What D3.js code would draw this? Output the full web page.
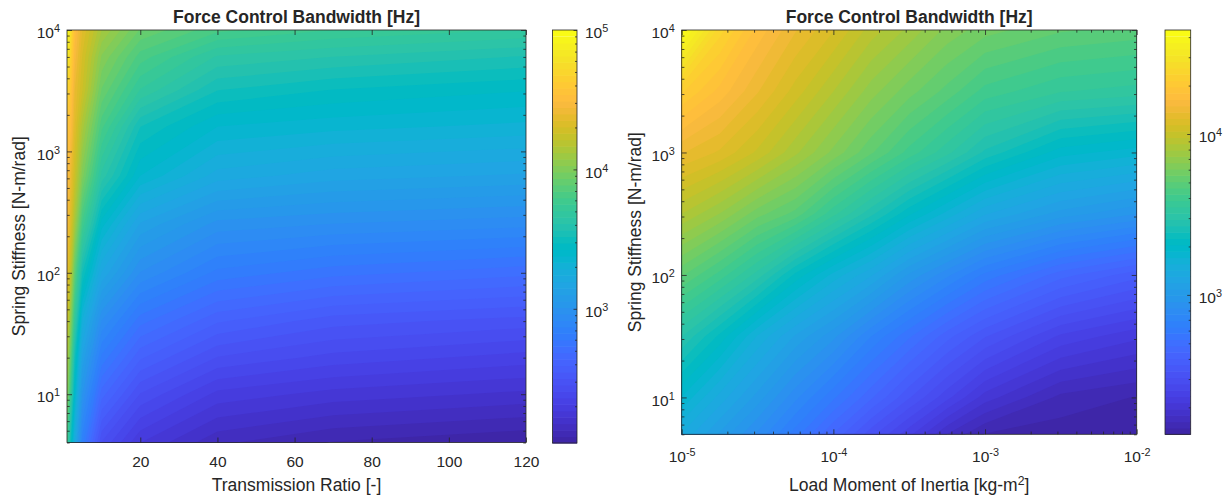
<!DOCTYPE html>
<html>
<head>
<meta charset="utf-8">
<script src="https://cdn.jsdelivr.net/npm/d3@7"></script>
<style>
  html, body { margin: 0; padding: 0; background: #fff; }
  svg { display: block; }
  text { font-family: "Liberation Sans", Arial, Helvetica, sans-serif; fill: #262626; }
</style>
</head>
<body>
<svg id="chart" width="1227" height="497"></svg>
<script>
// Parula colour map, 64 entries (r, g, b in 0..1)
const PARULA = [
  [0.2422,0.1504,0.6603],[0.2504,0.1650,0.7076],[0.2578,0.1818,0.7511],[0.2647,0.1978,0.7952],
  [0.2706,0.2147,0.8364],[0.2751,0.2342,0.8710],[0.2783,0.2559,0.8991],[0.2803,0.2782,0.9221],
  [0.2813,0.3006,0.9414],[0.2810,0.3228,0.9579],[0.2795,0.3447,0.9717],[0.2760,0.3667,0.9829],
  [0.2699,0.3892,0.9906],[0.2602,0.4123,0.9952],[0.2440,0.4358,0.9988],[0.2206,0.4603,0.9973],
  [0.1963,0.4847,0.9892],[0.1834,0.5074,0.9798],[0.1786,0.5289,0.9682],[0.1764,0.5499,0.9520],
  [0.1687,0.5703,0.9359],[0.1540,0.5902,0.9218],[0.1460,0.6091,0.9079],[0.1380,0.6276,0.8973],
  [0.1248,0.6459,0.8883],[0.1113,0.6635,0.8763],[0.0952,0.6798,0.8598],[0.0689,0.6948,0.8394],
  [0.0297,0.7082,0.8163],[0.0036,0.7203,0.7917],[0.0067,0.7312,0.7660],[0.0433,0.7411,0.7394],
  [0.0964,0.7500,0.7120],[0.1408,0.7584,0.6842],[0.1717,0.7670,0.6554],[0.1938,0.7758,0.6251],
  [0.2161,0.7843,0.5923],[0.2470,0.7918,0.5567],[0.2906,0.7973,0.5188],[0.3406,0.8008,0.4789],
  [0.3909,0.8029,0.4354],[0.4456,0.8024,0.3909],[0.5044,0.7993,0.3480],[0.5616,0.7942,0.3045],
  [0.6174,0.7876,0.2612],[0.6720,0.7793,0.2227],[0.7242,0.7698,0.1910],[0.7738,0.7598,0.1646],
  [0.8203,0.7498,0.1535],[0.8634,0.7406,0.1596],[0.9035,0.7330,0.1774],[0.9393,0.7288,0.2100],
  [0.9728,0.7298,0.2394],[0.9956,0.7434,0.2371],[0.9970,0.7659,0.2199],[0.9952,0.7893,0.2028],
  [0.9892,0.8136,0.1885],[0.9786,0.8386,0.1766],[0.9676,0.8639,0.1643],[0.9610,0.8890,0.1537],
  [0.9597,0.9135,0.1423],[0.9628,0.9373,0.1265],[0.9691,0.9606,0.1064],[0.9769,0.9839,0.0805]
];

// ---- Left panel: transmission ratio vs. spring stiffness ----
const ratioSamples = [1, 2, 3, 5, 10, 20, 40, 70, 120];
const stiffnessSamplesA = [4, 10, 20, 40, 100, 250, 630, 1600, 3200, 6000, 10000];
// log10 of force control bandwidth [Hz]; one row per stiffness sample, columns follow ratioSamples
const bandwidthLogA = [
  [3.78, 3.49, 3.24, 2.84, 2.45, 2.27, 2.14, 2.08, 2.04],
  [4.05, 3.73, 3.40, 3.01, 2.66, 2.45, 2.30, 2.25, 2.21],
  [4.17, 3.88, 3.52, 3.14, 2.81, 2.60, 2.45, 2.39, 2.34],
  [4.29, 4.02, 3.70, 3.28, 2.96, 2.75, 2.60, 2.52, 2.48],
  [4.40, 4.20, 3.90, 3.52, 3.19, 2.96, 2.81, 2.75, 2.70],
  [4.47, 4.32, 4.12, 3.78, 3.40, 3.14, 2.99, 2.96, 2.93],
  [4.52, 4.40, 4.26, 4.00, 3.64, 3.38, 3.22, 3.17, 3.14],
  [4.58, 4.50, 4.35, 4.14, 3.81, 3.52, 3.38, 3.35, 3.32],
  [4.71, 4.58, 4.40, 4.26, 3.93, 3.70, 3.52, 3.47, 3.43],
  [4.86, 4.67, 4.47, 4.30, 4.02, 3.82, 3.65, 3.61, 3.56],
  [5.00, 4.76, 4.52, 4.35, 4.12, 3.93, 3.81, 3.75, 3.70]
];
const ratioTicks = [20, 40, 60, 80, 100, 120];
const colorRangeA = [109, 100000];

// ---- Right panel: load moment of inertia vs. spring stiffness ----
const inertiaSamples = [1e-5, 1.78e-5, 3.16e-5, 5.62e-5, 1e-4, 1.78e-4, 3.16e-4, 5.62e-4, 1e-3, 3.16e-3, 1e-2];
const stiffnessSamplesB = [5, 10, 31.6, 100, 316, 1000, 3162, 10000];
// log10 of force control bandwidth [Hz]; one row per stiffness sample, columns follow inertiaSamples
const bandwidthLogB = [
  [3.15, 3.03, 2.91, 2.78, 2.64, 2.50, 2.38, 2.25, 2.17, 2.15, 2.14],
  [3.27, 3.14, 3.02, 2.89, 2.77, 2.65, 2.53, 2.42, 2.31, 2.20, 2.17],
  [3.47, 3.34, 3.19, 3.07, 2.97, 2.84, 2.73, 2.62, 2.53, 2.40, 2.34],
  [3.71, 3.61, 3.49, 3.34, 3.22, 3.12, 2.99, 2.89, 2.79, 2.66, 2.58],
  [3.94, 3.86, 3.76, 3.69, 3.56, 3.44, 3.32, 3.22, 3.12, 3.02, 2.96],
  [4.14, 4.09, 4.01, 3.91, 3.81, 3.71, 3.61, 3.52, 3.42, 3.29, 3.25],
  [4.34, 4.24, 4.14, 4.04, 3.94, 3.84, 3.76, 3.69, 3.61, 3.55, 3.53],
  [4.64, 4.39, 4.24, 4.14, 4.06, 3.96, 3.89, 3.81, 3.76, 3.71, 3.69]
];
const colorRangeB = [136, 44300];

const TITLE = "Force Control Bandwidth [Hz]";
const Y_LABEL = "Spring Stiffness [N-m/rad]";

const svg = d3.select("#chart");
const INK = "#262626";
const TICK_FONT = 15.5, LABEL_FONT = 17.5;
const rgb = c => d3.rgb(c[0] * 255, c[1] * 255, c[2] * 255).formatHex();

// decade ticks get labels, the remaining log ticks are minor
const isDecade = v => Math.abs(Math.log10(v) - Math.round(Math.log10(v))) < 1e-9;
const decades = s => s.ticks().filter(isDecade);
const minors = s => s.ticks().filter(v => !isDecade(v));

function powerLabels(sel, dy) {
  sel.selectAll(".tick text").each(function (d) {
    const t = d3.select(this);
    t.text(null).attr("dy", dy);
    t.append("tspan").text("10");
    t.append("tspan").attr("dy", "-0.55em").attr("font-size", "0.7em")
      .text(Math.round(Math.log10(d)));
  });
}

function styleAxis(g) {
  g.attr("font-family", null).attr("font-size", TICK_FONT).attr("color", INK);
  g.select(".domain").remove();
  g.selectAll(".tick line").attr("stroke-width", 0.8);
  return g;
}

function drawPanel(p) {
  const { x, y, c, xs, ys, grid } = p;
  const [x0, x1] = x.range(), [y1, y0] = y.range();
  const g = svg.append("g");

  // filled contour bands, one per colour map level
  const n = xs.length, m = ys.length;
  const values = grid.flat();
  const lo = Math.log10(c.domain()[0]), hi = Math.log10(c.domain()[1]);
  const step = (hi - lo) / PARULA.length;
  const thresholds = PARULA.map((_, k) => k === 0 ? d3.min(values) - 1 : lo + k * step);
  const bands = d3.contours().size([n, m]).thresholds(thresholds)(values);
  const colPx = d3.scaleLinear().domain(d3.range(n)).range(xs.map(x));
  const rowPx = d3.scaleLinear().domain(d3.range(m)).range(ys.map(y));
  const clampIdx = (v, k) => Math.max(0, Math.min(k - 1, v - 0.5));
  const path = d3.geoPath(d3.geoTransform({
    point(px, py) { this.stream.point(colPx(clampIdx(px, n)), rowPx(clampIdx(py, m))); }
  }));
  g.append("g").selectAll("path").data(bands).join("path")
    .attr("d", path)
    .attr("fill", (d, i) => rgb(PARULA[i]));

  // axes: ticks point inwards on all four sides
  const xMaj = p.xTicks || decades(x), xMin = p.xTicks ? [] : minors(x);
  const yMaj = decades(y), yMin = minors(y);
  const T = 5, t = 2.7;

  const bottom = styleAxis(g.append("g").attr("transform", `translate(0,${y1})`)
    .call(d3.axisBottom(x).tickValues(xMaj).tickSize(-T).tickPadding(p.xPad)
      .tickFormat(p.xTicks ? d3.format("d") : null)));
  if (!p.xTicks) powerLabels(bottom, "0.71em");
  if (xMin.length) {
    styleAxis(g.append("g").attr("transform", `translate(0,${y1})`)
      .call(d3.axisBottom(x).tickValues(xMin).tickSize(-t).tickFormat("")));
    styleAxis(g.append("g").attr("transform", `translate(0,${y0})`)
      .call(d3.axisTop(x).tickValues(xMin).tickSize(-t).tickFormat("")));
  }
  styleAxis(g.append("g").attr("transform", `translate(0,${y0})`)
    .call(d3.axisTop(x).tickValues(xMaj).tickSize(-T).tickFormat("")));

  const left = styleAxis(g.append("g").attr("transform", `translate(${x0},0)`)
    .call(d3.axisLeft(y).tickValues(yMaj).tickSize(-T).tickPadding(7)));
  powerLabels(left, "0.5em");
  styleAxis(g.append("g").attr("transform", `translate(${x0},0)`)
    .call(d3.axisLeft(y).tickValues(yMin).tickSize(-t).tickFormat("")));
  styleAxis(g.append("g").attr("transform", `translate(${x1},0)`)
    .call(d3.axisRight(y).tickValues(yMaj).tickSize(-T).tickFormat("")));
  styleAxis(g.append("g").attr("transform", `translate(${x1},0)`)
    .call(d3.axisRight(y).tickValues(yMin).tickSize(-t).tickFormat("")));

  g.append("rect").attr("x", x0).attr("y", y0).attr("width", x1 - x0).attr("height", y1 - y0)
    .attr("fill", "none").attr("stroke", INK).attr("stroke-width", 0.8);

  // title and axis labels
  const cx = (x0 + x1) / 2;
  g.append("text").attr("x", cx).attr("y", 23).attr("text-anchor", "middle")
    .attr("font-size", LABEL_FONT).attr("font-weight", "bold").attr("fill", "#000").text(TITLE);
  const xl = g.append("text").attr("x", cx).attr("y", 491).attr("text-anchor", "middle")
    .attr("font-size", LABEL_FONT);
  p.xLabel(xl);
  g.append("text").attr("transform", `translate(${p.yLabelX},${(y0 + y1) / 2}) rotate(-90)`)
    .attr("text-anchor", "middle").attr("font-size", LABEL_FONT).text(Y_LABEL);

  // colour bar
  const [bx0, bx1] = p.bar;
  const [cy1, cy0] = c.range();
  const cb = svg.append("g");
  const last = PARULA.length - 1;
  cb.selectAll("rect").data(d3.range(PARULA.length)).join("rect")
    .attr("x", bx0).attr("width", bx1 - bx0)
    .attr("y", k => c(10 ** (lo + (k + 1) * step)))
    .attr("height", k => c(10 ** (lo + k * step)) - c(10 ** (lo + (k + 1) * step)) + (k === last ? 0 : 0.6))
    .attr("fill", k => rgb(PARULA[k]));
  const cax = styleAxis(cb.append("g").attr("transform", `translate(${bx1},0)`)
    .call(d3.axisRight(c).tickValues(decades(c)).tickSize(-3.5).tickPadding(8)));
  powerLabels(cax, "0.5em");
  styleAxis(cb.append("g").attr("transform", `translate(${bx1},0)`)
    .call(d3.axisRight(c).tickValues(minors(c)).tickSize(-2).tickFormat("")));
  cb.append("rect").attr("x", bx0).attr("y", cy0).attr("width", bx1 - bx0).attr("height", cy1 - cy0)
    .attr("fill", "none").attr("stroke", INK).attr("stroke-width", 0.8);
}

// Left panel
drawPanel({
  x: d3.scaleLinear().domain([1, 120]).range([67, 526]),
  y: d3.scaleLog().domain([4, 10000]).range([442.5, 30]),
  c: d3.scaleLog().domain(colorRangeA).range([443, 30]),
  xs: ratioSamples, ys: stiffnessSamplesA, grid: bandwidthLogA,
  xTicks: ratioTicks, xPad: 13.5,
  xLabel: t => t.text("Transmission Ratio [-]"),
  yLabelX: 25,
  bar: [552.5, 577]
});

// Right panel
drawPanel({
  x: d3.scaleLog().domain([1e-5, 1e-2]).range([681.7, 1136.7]),
  y: d3.scaleLog().domain([5, 10000]).range([434.3, 30]),
  c: d3.scaleLog().domain(colorRangeB).range([434.3, 30]),
  xs: inertiaSamples, ys: stiffnessSamplesB, grid: bandwidthLogB,
  xPad: 16.5,
  xLabel: t => {
    t.append("tspan").text("Load Moment of Inertia [kg-m");
    t.append("tspan").attr("dy", "-0.5em").attr("font-size", "0.7em").text("2");
    t.append("tspan").attr("dy", "0.35em").text("]");
  },
  yLabelX: 640.5,
  bar: [1165, 1190.7]
});
</script>
</body>
</html>
